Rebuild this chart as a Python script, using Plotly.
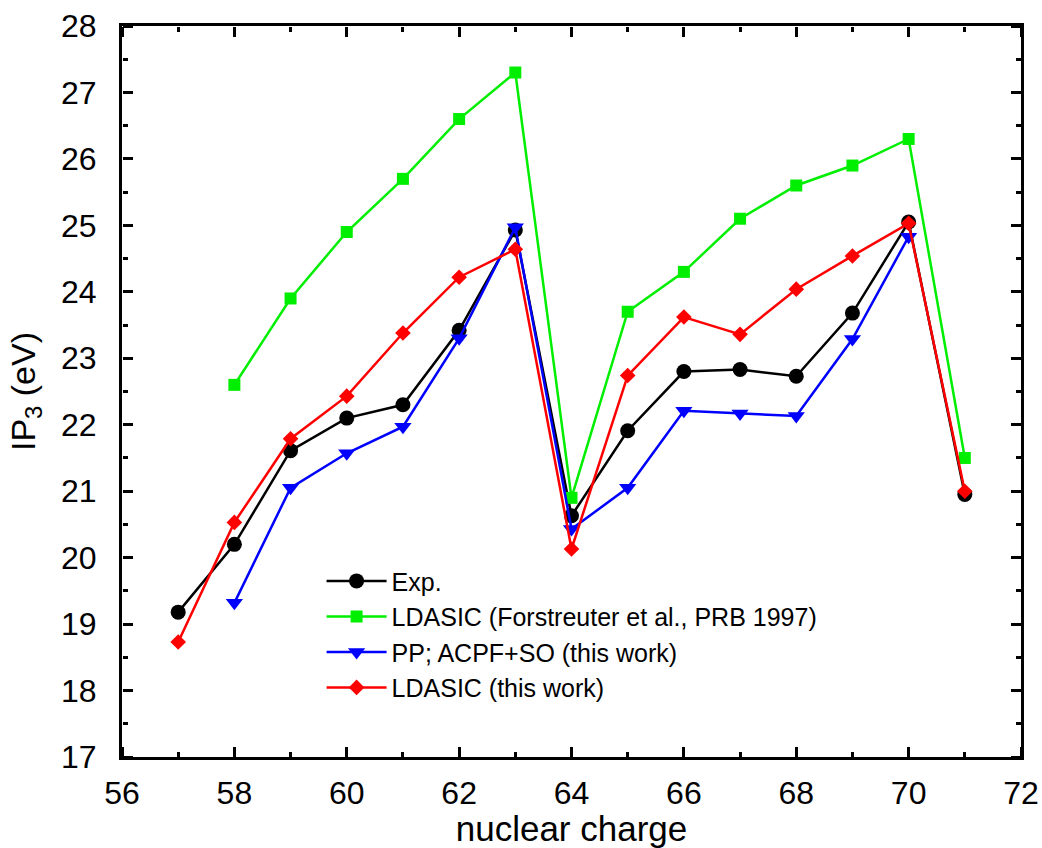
import plotly.graph_objects as go

z_exp = [57, 58, 59, 60, 61, 62, 63, 64, 65, 66, 67, 68, 69, 70, 71]
ip_exp = [19.18, 20.20, 21.61, 22.10, 22.30, 23.42, 24.93, 20.63, 21.91, 22.80, 22.83, 22.73, 23.68, 25.05, 20.95]

z_forst = [58, 59, 60, 61, 62, 63, 64, 65, 66, 67, 68, 69, 70, 71]
ip_forst = [22.6, 23.9, 24.9, 25.7, 26.6, 27.3, 20.9, 23.7, 24.3, 25.1, 25.6, 25.9, 26.3, 21.5]

z_pp = [58, 59, 60, 61, 62, 63, 64, 65, 66, 67, 68, 69, 70]
ip_pp = [19.32, 21.05, 21.57, 21.97, 23.30, 24.97, 20.43, 21.05, 22.21, 22.17, 22.13, 23.29, 24.83]

z_lda = [57, 58, 59, 60, 61, 62, 63, 64, 65, 66, 67, 68, 69, 70, 71]
ip_lda = [18.73, 20.53, 21.79, 22.43, 23.38, 24.22, 24.64, 20.13, 22.74, 23.62, 23.36, 24.04, 24.54, 25.03, 21.00]

names = ["Exp.", "LDASIC (Forstreuter et al., PRB 1997)", "PP; ACPF+SO (this work)", "LDASIC (this work)"]

FONT = "Liberation Sans, Arial, Helvetica, sans-serif"
X_RANGE = [56, 72]
Y_RANGE = [17, 28]

fig = go.Figure()

# invisible helper traces so the tick-only overlay axes get drawn
for xa, ya in [("x", "y3"), ("x", "y4"), ("x3", "y"), ("x4", "y")]:
    fig.add_trace(go.Scatter(x=z_exp, y=ip_exp, xaxis=xa, yaxis=ya, mode="markers",
                             marker=dict(opacity=0, size=1), showlegend=False, hoverinfo="skip"))

fig.add_trace(go.Scatter(x=z_exp, y=ip_exp, name=names[0], mode="lines+markers",
                         line=dict(color="black", width=2.5),
                         marker=dict(symbol="circle", size=15, color="black")))
fig.add_trace(go.Scatter(x=z_forst, y=ip_forst, name=names[1], mode="lines+markers",
                         line=dict(color="#00ee00", width=2.5),
                         marker=dict(symbol="square", size=12, color="#00ee00")))
fig.add_trace(go.Scatter(x=z_pp, y=ip_pp, name=names[2], mode="lines+markers",
                         line=dict(color="#0000ff", width=2.5),
                         marker=dict(symbol="triangle-down", size=15, color="#0000ff")))
fig.add_trace(go.Scatter(x=z_lda, y=ip_lda, name=names[3], mode="lines+markers",
                         line=dict(color="#ff0000", width=2.5),
                         marker=dict(symbol="diamond", size=12, color="#ff0000")))

base = dict(showgrid=False, zeroline=False, showline=True, linecolor="black", linewidth=3,
            mirror=True, ticks="")
tickax = dict(showgrid=False, zeroline=False, showline=False, showticklabels=False,
              ticks="outside", ticklen=10, tickwidth=2.5, tickcolor="black",
              anchor="free", fixedrange=True)
xminor = dict(ticks="outside", ticklen=5, tickwidth=2.5, tickcolor="black", tick0=56, dtick=1, showgrid=False)
yminor = dict(ticks="outside", ticklen=5, tickwidth=2.5, tickcolor="black", tick0=17, dtick=0.5, showgrid=False)

fig.update_layout(
    template="none",
    width=1042, height=848,
    margin=dict(l=122, r=21, t=26, b=91, autoexpand=False),
    paper_bgcolor="white", plot_bgcolor="white",
    font=dict(family=FONT, color="black"),
    xaxis=dict(range=X_RANGE, tickmode="linear", tick0=56, dtick=2,
               tickfont=dict(family=FONT, size=32, color="black"), ticklabelstandoff=6,
               title=dict(text="nuclear charge", font=dict(family=FONT, size=35, color="black"), standoff=5),
               **base),
    yaxis=dict(range=Y_RANGE, tickmode="linear", tick0=17, dtick=1,
               tickfont=dict(family=FONT, size=32, color="black"), ticklabelstandoff=16,
               title=dict(text="IP<sub>3</sub> (eV)", font=dict(family=FONT, size=34, color="black"), standoff=16),
               **base),
    # bottom edge, ticks pointing up
    xaxis3=dict(range=X_RANGE, overlaying="x", side="top", position=0, tickmode="linear", tick0=56, dtick=2,
                minor=xminor, **tickax),
    # top edge, ticks pointing down
    xaxis4=dict(range=X_RANGE, overlaying="x", side="bottom", position=1, tickmode="linear", tick0=56, dtick=2,
                minor=xminor, **tickax),
    # left edge, ticks pointing right
    yaxis3=dict(range=Y_RANGE, overlaying="y", side="right", position=0, tickmode="linear", tick0=17, dtick=1,
                minor=yminor, **tickax),
    # right edge, ticks pointing left
    yaxis4=dict(range=Y_RANGE, overlaying="y", side="left", position=1, tickmode="linear", tick0=17, dtick=1,
                minor=yminor, **tickax),
    showlegend=True,
    legend=dict(x=0.222, y=0.272, xanchor="left", yanchor="top",
                bgcolor="rgba(0,0,0,0)", borderwidth=0,
                font=dict(family=FONT, size=25, color="black"),
                itemwidth=60, tracegroupgap=0),
)

fig.write_html("out.html")
